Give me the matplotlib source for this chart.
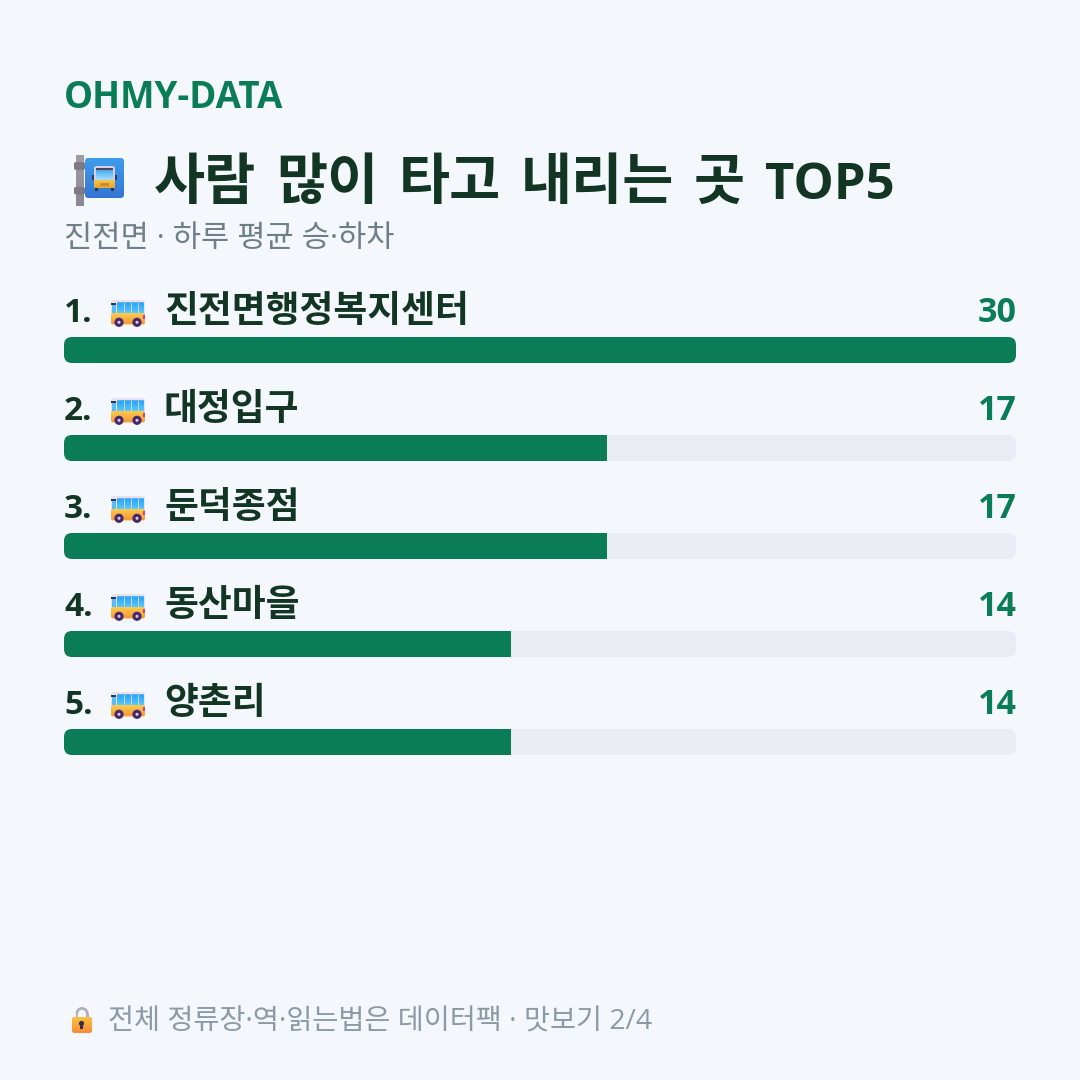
import numpy as np
import matplotlib
matplotlib.use('Agg')
import matplotlib.pyplot as plt
from matplotlib.patches import FancyBboxPatch, Rectangle, Circle, Wedge

# Latin letters, digits and dots from Open Sans, hangul falls through to Noto
FONTS = ['Open Sans', 'Noto Sans CJK KR', 'DejaVu Sans']
plt.rcParams['font.family'] = FONTS

# data
brand = 'OHMY-DATA'
title_words = ['사람', '많이', '타고', '내리는', '곳', 'TOP5']
subtitle = '진전면 · 하루 평균 승·하차'
footer = '전체 정류장·역·읽는법은 데이터팩 · 맛보기 2/4'
stops = ['진전면행정복지센터', '대정입구', '둔덕종점', '동산마을', '양촌리']
counts = [30, 17, 17, 14, 14]

GREEN = '#0b7d56'
DARK = '#123524'
BG = '#f4f7fc'
TRACK = '#e9edf3'

BAR_LEFT = 64
BAR_W = 952


def rbox(ax, x, y, w, h, r, color, zorder=2):
    p = FancyBboxPatch((x + r, y + r), w - 2 * r, h - 2 * r,
                       boxstyle='round,pad=%f,rounding_size=%f' % (r, r),
                       fc=color, ec='none', zorder=zorder)
    ax.add_patch(p)
    return p


def gradient(ax, patch, x, y, w, h, top, bottom, zorder=3):
    # vertical gradient clipped to a patch
    c0 = np.array(matplotlib.colors.to_rgb(top))
    c1 = np.array(matplotlib.colors.to_rgb(bottom))
    t = np.linspace(0, 1, 32)[:, None, None]
    img = c0[None, None, :] * (1 - t) + c1[None, None, :] * t
    im = ax.imshow(img, extent=(x, x + w, y + h, y), aspect='auto', zorder=zorder)
    im.set_clip_path(patch)


def small_bus(ax, x, y):
    # side view bus, 34 x 27 px
    rbox(ax, x, y, 34, 18, 2.5, '#e6e0f0', 3)
    win = rbox(ax, x + 6, y + 2.5, 27, 11, 0.5, '#46b4f5', 4)
    gradient(ax, win, x + 6, y + 2.5, 27, 11, '#22a0f8', '#5cc8fb', 4)
    ax.add_patch(Rectangle((x, y + 2.5), 5, 2.5, fc='#2e3550', ec='none', zorder=6))
    ax.add_patch(Rectangle((x + 1, y + 5), 4, 8, fc='#58bdf5', ec='none', zorder=5))
    for dx in [13, 20, 27]:
        ax.add_patch(Rectangle((x + dx, y + 2.5), 1, 11, fc='#c6d8f2', ec='none', zorder=5))
    body = rbox(ax, x, y + 13, 34, 11.5, 2.5, '#fbb13c', 5)
    gradient(ax, body, x, y + 13, 34, 11.5, '#fdd04c', '#f8983a', 5)
    ax.add_patch(Rectangle((x + 32, y + 15), 2, 4, fc='#e0338f', ec='none', zorder=6))
    for dx in [8, 26]:
        ax.add_patch(Circle((x + dx, y + 22.3), 4.6, fc='#46296b', ec='none', zorder=7))
        ax.add_patch(Circle((x + dx, y + 22.3), 1.5, fc='#d8cfe6', ec='none', zorder=8))


def stop_sign(ax):
    # pole with two clamps and a blue sign carrying a front view bus
    pole = Rectangle((76, 155), 8, 51, fc='#8b8794', ec='none', zorder=2)
    ax.add_patch(pole)
    gradient(ax, pole, 76, 155, 8, 51, '#a09ca8', '#8a8694', 2)
    rbox(ax, 74, 162, 11, 8, 2, '#7d7985', 3)
    rbox(ax, 74, 187, 11, 7.5, 2, '#7d7985', 3)
    sign = rbox(ax, 85, 158, 39, 40, 4, '#3a8ae0', 3)
    gradient(ax, sign, 85, 158, 39, 40, '#3f9cec', '#3476d6', 3)
    ax.add_patch(Rectangle((92, 175), 3, 5, fc='#333a58', ec='none', zorder=4))
    ax.add_patch(Rectangle((114, 175), 3, 5, fc='#333a58', ec='none', zorder=4))
    rbox(ax, 94, 166, 21, 17, 2.5, '#d4d0ea', 5)
    rbox(ax, 96, 168, 17, 2.5, 0.5, '#4a4560', 6)
    win = rbox(ax, 96, 170.5, 17, 9.5, 0.5, '#4fb4f5', 6)
    gradient(ax, win, 96, 170.5, 17, 9.5, '#47aef5', '#a8def9', 6)
    body = rbox(ax, 94, 180, 21, 8, 1.5, '#f2b93b', 6)
    gradient(ax, body, 94, 180, 21, 8, '#f7c44a', '#e8a432', 6)
    ax.add_patch(Rectangle((100, 183), 9, 3, fc='#c98f2e', ec='none', zorder=7))
    ax.add_patch(Rectangle((95, 188), 3, 2.5, fc='#2c3350', ec='none', zorder=5))
    ax.add_patch(Rectangle((111, 188), 3, 2.5, fc='#2c3350', ec='none', zorder=5))


def lock(ax):
    # shackle drawn as a half ring, body with a yellow to orange fade
    ax.add_patch(Wedge((82, 1013.5), 6.5, 180, 360, width=2.8, fc='#b5adc2', ec='none', zorder=2))
    ax.add_patch(Rectangle((75.5, 1013), 2.8, 5, fc='#b5adc2', ec='none', zorder=2))
    ax.add_patch(Rectangle((85.7, 1013), 2.8, 5, fc='#b5adc2', ec='none', zorder=2))
    body = rbox(ax, 72, 1017, 20, 16, 2.5, '#fbb040', 3)
    gradient(ax, body, 72, 1017, 20, 16, '#fcc33f', '#f98a3c', 3)
    ax.add_patch(Circle((81.5, 1023.5), 2.6, fc='#33304a', ec='none', zorder=5))
    ax.add_patch(Rectangle((80.3, 1023.5), 2.4, 5.5, fc='#33304a', ec='none', zorder=5))


def word_row(ax, x, y, words, gap, sizes, **kw):
    # place words one after another with a fixed gap between their ink boxes
    renderer = ax.figure.canvas.get_renderer()
    for word, size in zip(words, sizes):
        t = ax.text(x, y, word, fontsize=size, va='baseline', ha='left', **kw)
        x = t.get_window_extent(renderer).x1 + gap


fig = plt.figure(figsize=(10.8, 10.8), dpi=100, facecolor=BG)
ax = fig.add_axes([0, 0, 1, 1])
ax.set_xlim(0, 1080)
ax.set_ylim(1080, 0)

stop_sign(ax)
lock(ax)

ax.text(64, 108, brand, fontsize=26.4, fontweight='bold', color=GREEN, va='baseline', ha='left')
word_row(ax, 154, 199, title_words, 20, [40, 40, 40, 40, 40, 36.5], fontweight='bold', color=DARK)
ax.text(64, 247, subtitle, fontsize=22.1, color='#6f7f88', va='baseline', ha='left')
ax.text(108, 1030, footer, fontsize=20.4, color='#8c9aa6', va='baseline', ha='left')

for i, (name, val) in enumerate(zip(stops, counts)):
    y = 337 + i * 98
    # bar length is the share of the largest count, in whole percent
    pct = round(val / max(counts) * 100)
    track = rbox(ax, BAR_LEFT, y, BAR_W, 26, 8, TRACK, 2)
    fill = Rectangle((BAR_LEFT, y), BAR_W * pct / 100, 26, fc=GREEN, ec='none', zorder=3)
    ax.add_patch(fill)
    fill.set_clip_path(track)
    small_bus(ax, 111, y - 37)
    ax.text(64, y - 15, '%d.' % (i + 1), fontsize=24, fontweight='bold', color=DARK, va='baseline', ha='left')
    ax.text(164, y - 15, name, fontsize=26.5, fontweight='bold', color=DARK, va='baseline', ha='left')
    ax.text(1016.5, y - 15, str(val), fontsize=24.5, fontweight='bold', color=GREEN, va='baseline', ha='right')

ax.set_xlim(0, 1080)
ax.set_ylim(1080, 0)
ax.axis('off')

fig.savefig('out.png', dpi=100, facecolor=BG)
